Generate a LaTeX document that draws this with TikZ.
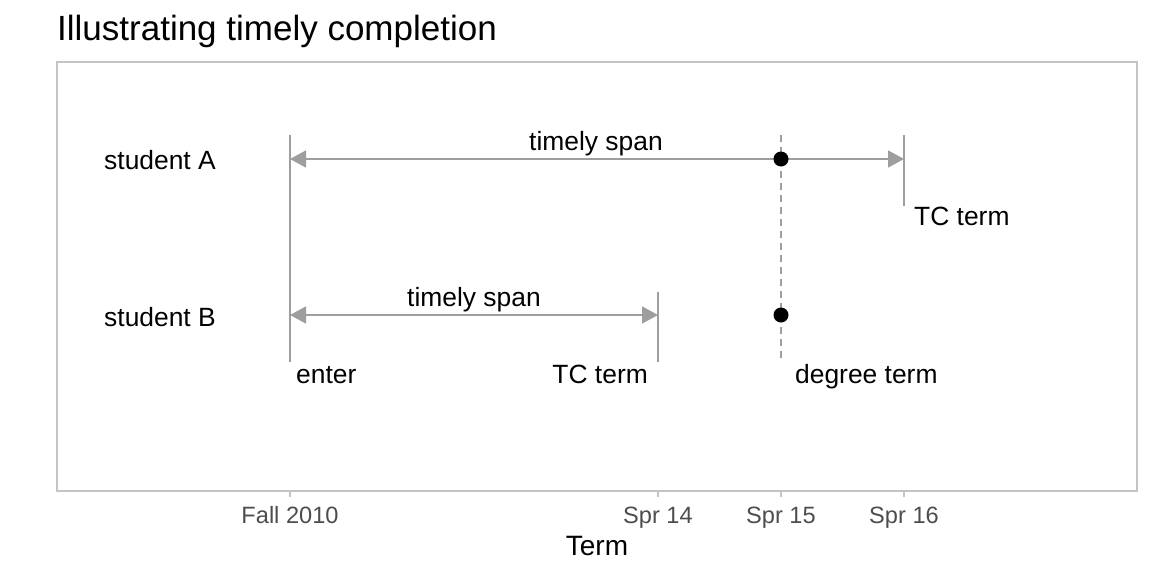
\documentclass[tikz,border=0pt]{standalone}
\usepackage{fontspec}
\setmainfont{Liberation Sans}
\usetikzlibrary{arrows.meta}
\definecolor{linegray}{HTML}{9E9E9E}
\definecolor{panelgray}{HTML}{C4C4C4}
\definecolor{ticktext}{HTML}{4D4D4D}
\tikzset{
  seg/.style={draw=linegray, line width=1.6pt},
  span/.style={seg, {Triangle[length=16pt,width=17pt]}-{Triangle[length=16pt,width=17pt]}},
  lab/.style={font=\fontsize{26.4}{28}\selectfont, inner sep=0pt, anchor=base},
  ticklab/.style={font=\fontsize{23.6}{26}\selectfont, text=ticktext, inner sep=0pt, anchor=base},
  dot/.style={circle, fill=black, inner sep=0pt, minimum size=15pt},
}
\begin{document}
\begin{tikzpicture}[x=1pt,y=-1pt]
\useasboundingbox (0,0) rectangle (1152,576);
% title
\node[font=\fontsize{35}{38}\selectfont, inner sep=0pt, anchor=base west] (title) at (57,40) {Illustrating timely completion};
% panel
\draw[panelgray, line width=1.2pt] (57,62) rectangle (1137,491);
% ticks
\foreach \x in {290,658,781,904}{
  \draw[panelgray, line width=1.2pt] (\x,491) -- (\x,497);
}
\node[ticklab] (fall) at (290,523) {Fall 2010};
\node[ticklab] (s14) at (658,523) {Spr 14};
\node[ticklab] (s15) at (781,523) {Spr 15};
\node[ticklab] (s16) at (904,523) {Spr 16};
\node[lab, font=\fontsize{28}{30}\selectfont] (term) at (597,555) {Term};
% coordinates
\coordinate (enterTop) at (290,135);
\coordinate (enterBot) at (290,362);
\coordinate (aL) at (290,159);
\coordinate (aR) at (904,159);
\coordinate (aTop) at (904,135);
\coordinate (aBot) at (904,206);
\coordinate (bL) at (290,315);
\coordinate (bR) at (658,315);
\coordinate (bTop) at (658,292);
\coordinate (bBot) at (658,362);
\coordinate (dTop) at (781,135);
\coordinate (dBot) at (781,362);
% lines
\draw[seg] (enterTop) -- (enterBot);
\draw[seg] (aTop) -- (aBot);
\draw[seg] (bTop) -- (bBot);
\draw[linegray, line width=1.3pt, dash pattern=on 7pt off 5pt] (dTop) -- (dBot);
\draw[span] (aL) -- (aR);
\draw[span] (bL) -- (bR);
% dots
\node[dot] (degA) at (781,159) {};
\node[dot] (degB) at (781,315) {};
% labels
\node[lab] (sa) at (160,169) {student A};
\node[lab] (sb) at (160,326) {student B};
\node[lab] (spanA) at (596,150) {timely span};
\node[lab] (spanB) at (474,306) {timely span};
\node[lab, anchor=base west] (tcA) at (914,225) {TC term};
\node[lab, anchor=base west] (enter) at (296,383) {enter};
\node[lab, anchor=base east] (tcB) at (648,383) {TC term};
\node[lab, anchor=base west] (deg) at (795,383) {degree term};
\end{tikzpicture}
\end{document}
